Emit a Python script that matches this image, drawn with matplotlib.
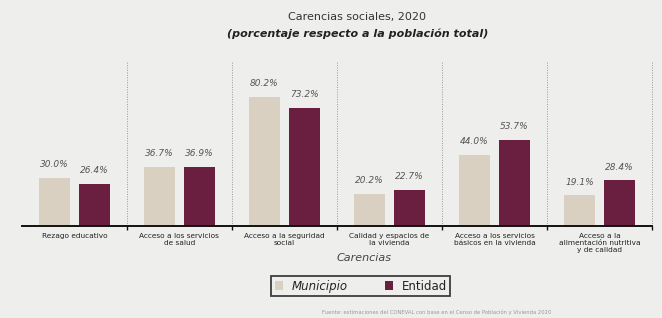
import numpy as np
import matplotlib as mpl
mpl.use("Agg")
import matplotlib.pyplot as plt
from matplotlib.patches import Patch

mpl.rcParams.update({"font.family": "DejaVu Sans"})

# datos
carencias = [
    "Rezago educativo",
    "Acceso a los servicios\nde salud",
    "Acceso a la seguridad\nsocial",
    "Calidad y espacios de\nla vivienda",
    "Acceso a los servicios\nbásicos en la vivienda",
    "Acceso a la\nalimentación nutritiva\ny de calidad",
]
municipio = [30.0, 36.7, 80.2, 20.2, 44.0, 19.1]
entidad = [26.4, 36.9, 73.2, 22.7, 53.7, 28.4]

BG = "#eeeeec"
COL_MUN, COL_ENT = "#d9d0c1", "#6a1f40"

fig = plt.figure(figsize=(6.62, 3.18), dpi=100, facecolor=BG)
ax = fig.add_axes([0.033, 0.289, 0.952, 0.516], facecolor=BG)

x = np.arange(len(carencias))
w = 0.30
ax.bar(x - 0.19, municipio, w, color=COL_MUN)
ax.bar(x + 0.19, entidad, w, color=COL_ENT)

for xi, m, e in zip(x, municipio, entidad):
    ax.text(xi - 0.19, m + 5.5, f"{m:.1f}%", ha="center", va="bottom",
            fontsize=6.5, style="italic", color="#555555")
    ax.text(xi + 0.19, e + 5.5, f"{e:.1f}%", ha="center", va="bottom",
            fontsize=6.5, style="italic", color="#555555")

for s in np.arange(0.5, len(carencias), 1.0):
    ax.axvline(s, color="#999999", lw=0.7, ls=(0, (1, 1.5)), clip_on=False)

ax.set_xlim(-0.5, len(carencias) - 0.5)
ax.set_ylim(0, 102)
for sp in ("top", "right", "left"):
    ax.spines[sp].set_visible(False)
ax.spines["bottom"].set_linewidth(1.4)
ax.spines["bottom"].set_color("#111111")
ax.set_yticks([])
ax.set_xticks(np.arange(0.5, len(carencias), 1.0))
ax.set_xticklabels([])
ax.tick_params(axis="x", length=3, width=1, color="#111111")
for xi, lab in zip(x, carencias):
    ax.text(xi, -4, lab, ha="center", va="top", fontsize=5.3,
            color="#222222", linespacing=1.25, transform=ax.transData)

fig.text(0.54, 0.948, "Carencias sociales, 2020", ha="center", va="center",
         fontsize=8, color="#333333")
fig.text(0.54, 0.895, "(porcentaje respecto a la población total)", ha="center",
         va="center", fontsize=8, style="italic", weight="bold", color="#222222")
fig.text(0.55, 0.188, "Carencias", ha="center", va="center", fontsize=8,
         style="italic", color="#444444")

handles = [Patch(facecolor=COL_MUN, label="Municipio"),
           Patch(facecolor=COL_ENT, label="Entidad")]
leg = fig.legend(handles=handles, loc="center", bbox_to_anchor=(0.545, 0.1),
                 ncol=2, fontsize=8.5, frameon=True, fancybox=False,
                 handlelength=0.7, handleheight=0.7, columnspacing=3.2,
                 borderpad=0.3, handletextpad=0.7, borderaxespad=0.0)
leg.get_frame().set_edgecolor("#111111")
leg.get_frame().set_linewidth(1.3)
leg.get_frame().set_facecolor(BG)
leg.get_texts()[0].set_style("italic")
# caja más ancha como en la referencia
for t in leg.get_texts():
    t.set_color("#222222")

fig.text(0.66, 0.018, "Fuente: estimaciones del CONEVAL con base en el Censo de Población y Vivienda 2020",
         ha="center", va="center", fontsize=3.8, color="#999999")

fig.savefig("out.png", dpi=100, facecolor=BG)
